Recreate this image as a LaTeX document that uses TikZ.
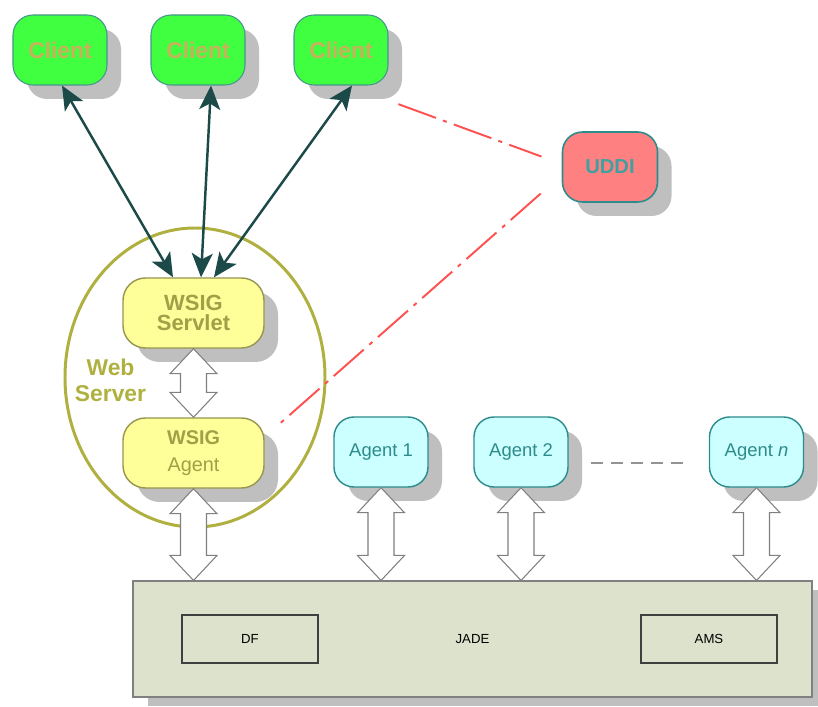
\documentclass[tikz,border=0pt]{standalone}
\usepackage{fontspec}
\setmainfont{Liberation Sans}
\usetikzlibrary{arrows.meta}
\usetikzlibrary{shapes.geometric}
\usetikzlibrary{shadows}

\definecolor{clientgreen}{RGB}{64,255,64}
\definecolor{clienttext}{RGB}{200,176,92}
\definecolor{clientedge}{RGB}{70,150,140}
\definecolor{uddifill}{RGB}{255,128,128}
\definecolor{udditext}{RGB}{64,160,160}
\definecolor{wsigfill}{RGB}{255,255,153}
\definecolor{wsigtext}{RGB}{160,160,72}
\definecolor{wsigedge}{RGB}{150,150,80}
\definecolor{olivering}{RGB}{176,176,64}
\definecolor{agentfill}{RGB}{204,255,255}
\definecolor{agentedge}{RGB}{46,139,139}
\definecolor{arrowteal}{RGB}{28,74,72}
\definecolor{uddired}{RGB}{255,80,80}
\definecolor{jadefill}{RGB}{221,226,204}

\newcommand{\fatarrow}[2]{%
\draw[fatarr] (#1) -- ([shift={(0.47,-0.5)}]#1) -- ([shift={(0.26,-0.5)}]#1)
  -- ([shift={(0.26,0.5)}]#2) -- ([shift={(0.47,0.5)}]#2) -- (#2)
  -- ([shift={(-0.47,0.5)}]#2) -- ([shift={(-0.26,0.5)}]#2)
  -- ([shift={(-0.26,-0.5)}]#1) -- ([shift={(-0.47,-0.5)}]#1) -- cycle;}

\tikzset{
  shad/.style={drop shadow={shadow xshift=0.28cm,shadow yshift=-0.28cm,fill=gray!50,opacity=1}},
  clientbox/.style={rectangle,rounded corners=0.4cm,minimum width=1.88cm,minimum height=1.4cm,
    fill=clientgreen,draw=clientedge,line width=0.6pt,shad,text=clienttext,
    font=\fontsize{13}{15}\selectfont\bfseries},
  uddibox/.style={rectangle,rounded corners=0.4cm,minimum width=1.9cm,minimum height=1.4cm,
    fill=uddifill,draw=agentedge,line width=0.9pt,shad,text=udditext,
    font=\fontsize{11.5}{13}\selectfont\bfseries},
  wsigbox/.style={rectangle,rounded corners=0.45cm,minimum width=2.82cm,minimum height=1.4cm,
    fill=wsigfill,draw=wsigedge,line width=0.8pt,shad,text=wsigtext,align=center},
  agentbox/.style={rectangle,rounded corners=0.4cm,minimum width=1.88cm,minimum height=1.4cm,
    fill=agentfill,draw=agentedge,line width=0.8pt,shad,text=agentedge,
    font=\fontsize{10.5}{12}\selectfont},
  websrv/.style={ellipse,draw=olivering,line width=1.7pt,minimum width=5.2cm,minimum height=5.98cm,inner sep=0pt},
  weblabel/.style={text=olivering,align=center,font=\fontsize{13}{14.7}\selectfont\bfseries},
  jadebox/.style={rectangle,minimum width=13.58cm,minimum height=2.32cm,fill=jadefill,draw=gray,
    line width=0.6pt,font=\fontsize{7.5}{9}\selectfont,
    drop shadow={shadow xshift=0.3cm,shadow yshift=-0.18cm,fill=gray!50,opacity=1}},
  subbox/.style={rectangle,minimum width=2.72cm,minimum height=0.96cm,draw=black!75,line width=0.6pt,
    font=\fontsize{7.5}{9}\selectfont},
  clientarr/.style={{Stealth[length=0.48cm,width=0.42cm,inset=0.12cm]}-{Stealth[length=0.48cm,width=0.42cm,inset=0.12cm]},
    draw=arrowteal,line width=1.4pt},
  uddiline/.style={draw=uddired,line width=1.1pt,dash pattern=on 0.8cm off 0.15cm on 0.08cm off 0.15cm},
  fatarr/.style={fill=white,draw=gray,line width=0.6pt,line join=miter},
  moreline/.style={draw=gray!85,line width=1.1pt,dash pattern=on 0.24cm off 0.16cm}
}

\begin{document}
\begin{tikzpicture}
\useasboundingbox (0,0) rectangle (16.36,14.14);
\fill[white] (0,0) rectangle (16.36,14.14);

\node[websrv] (web) at (3.90,6.59) {};
\node[weblabel] (weblbl) at (2.21,6.54) {Web\\Server};

\node[clientbox] (client1) at (1.20,13.14) {Client};
\node[clientbox] (client2) at (3.96,13.14) {Client};
\node[clientbox] (client3) at (6.82,13.14) {Client};
\node[uddibox] (uddi) at (12.20,10.80) {UDDI};

\node[wsigbox,font=\fontsize{12.5}{11.5}\selectfont\bfseries] (servlet) at (3.87,7.88) {WSIG\\Servlet};
\node[wsigbox,font=\fontsize{11.3}{15}\selectfont] (wsigagent) at (3.87,5.08) {\textbf{WSIG}\\Agent};

\node[agentbox] (agent1) at (7.62,5.10) {Agent 1};
\node[agentbox] (agent2) at (10.42,5.10) {Agent 2};
\node[agentbox] (agentn) at (15.13,5.10) {Agent \textit{n}};

\node[jadebox] (jade) at (9.45,1.36) {JADE};
\node[subbox] (df) at (5.00,1.36) {DF};
\node[subbox] (ams) at (14.18,1.36) {AMS};

\draw[clientarr] ([xshift=0.04cm]client1.south) -- ([xshift=-0.41cm]servlet.north);
\draw[clientarr] ([xshift=0.26cm]client2.south) -- ([xshift=0.15cm]servlet.north);
\draw[clientarr] ([xshift=0.22cm]client3.south) -- ([xshift=0.41cm]servlet.north);

\draw[uddiline,shorten <=0.21cm,shorten >=0.43cm] ([yshift=-0.30cm]client3.south east) -- ([yshift=0.06cm]uddi.west);
\draw[uddiline,shorten <=0.56cm,shorten >=0.43cm] ([yshift=-0.16cm]uddi.west) -- ([yshift=0.32cm]wsigagent.east);

\draw[moreline,shorten <=0.44cm,shorten >=0.5cm] ([yshift=-0.22cm]agent2.east) -- ([yshift=-0.22cm]agentn.west);

\coordinate (j0) at (wsigagent.south |- jade.north);
\coordinate (j1) at (agent1.south |- jade.north);
\coordinate (j2) at (agent2.south |- jade.north);
\coordinate (jn) at (agentn.south |- jade.north);

\fatarrow{servlet.south}{wsigagent.north}
\fatarrow{wsigagent.south}{j0}
\fatarrow{agent1.south}{j1}
\fatarrow{agent2.south}{j2}
\fatarrow{agentn.south}{jn}

\end{tikzpicture}
\end{document}
